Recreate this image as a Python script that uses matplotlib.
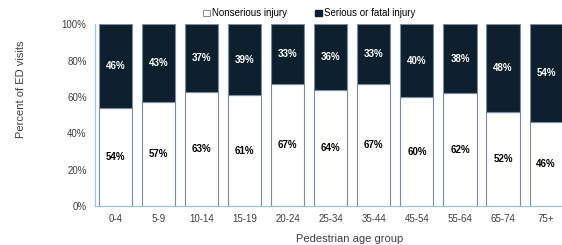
import matplotlib.pyplot as plt
import numpy as np
from matplotlib.patches import Patch

plt.rcParams['font.family'] = ['Liberation Sans', 'DejaVu Sans']

# Data
age_groups = ['0-4', '5-9', '10-14', '15-19', '20-24', '25-34', '35-44', '45-54', '55-64', '65-74', '75+']
nonserious = [54, 57, 63, 61, 67, 64, 67, 60, 62, 52, 46]
serious = [46, 43, 37, 39, 33, 36, 33, 40, 38, 48, 54]

dark = '#0e1f2d'
edge = '#7a8ca3'
axis_col = '#9cc3e0'

fig = plt.figure(figsize=(5.62, 2.45), dpi=100)
ax = fig.add_axes([0.169, 0.159, 0.841, 0.742])

x = np.arange(len(age_groups))
w = 0.77
ax.bar(x, nonserious, w, color='white', edgecolor=edge, linewidth=0.8)
ax.bar(x, serious, w, bottom=nonserious, color=dark, edgecolor=edge, linewidth=0.8)

# Labels in the middle of each segment
for i in range(len(x)):
    ax.text(x[i], nonserious[i] / 2, f'{nonserious[i]}%', ha='center', va='center',
            fontsize=7, fontweight='bold', color='black')
    ax.text(x[i], nonserious[i] + serious[i] / 2, f'{serious[i]}%', ha='center', va='center',
            fontsize=7, fontweight='bold', color='white')

ax.set_xlim(-0.477, 10.5)
ax.set_ylim(0, 100)
ax.set_xticks(x)
ax.set_xticklabels(age_groups)
ax.set_yticks(np.arange(0, 101, 20))
ax.set_yticklabels([f'{v}%' for v in range(0, 101, 20)])
ax.tick_params(axis='both', length=0, labelsize=7, colors='#404040', pad=6)

for s in ['top', 'right']:
    ax.spines[s].set_visible(False)
for s in ['left', 'bottom']:
    ax.spines[s].set_color(axis_col)
    ax.spines[s].set_linewidth(0.9)

ax.set_ylabel('Percent of ED visits', fontsize=8, color='#404040')
ax.yaxis.set_label_coords(-0.145, 0.64)
ax.set_xlabel('Pedestrian age group', fontsize=8, color='#404040')
ax.xaxis.set_label_coords(0.538, -0.153)

handles = [Patch(facecolor='white', edgecolor=edge, linewidth=0.7, label='Nonserious injury'),
           Patch(facecolor=dark, edgecolor=dark, label='Serious or fatal injury')]
fig.legend(handles=handles, loc='center', bbox_to_anchor=(0.55, 0.945), ncol=2, frameon=False,
           fontsize=7, handlelength=0.7, handleheight=0.7, handletextpad=0.2, columnspacing=2.9)

plt.savefig('out.png', dpi=100)
